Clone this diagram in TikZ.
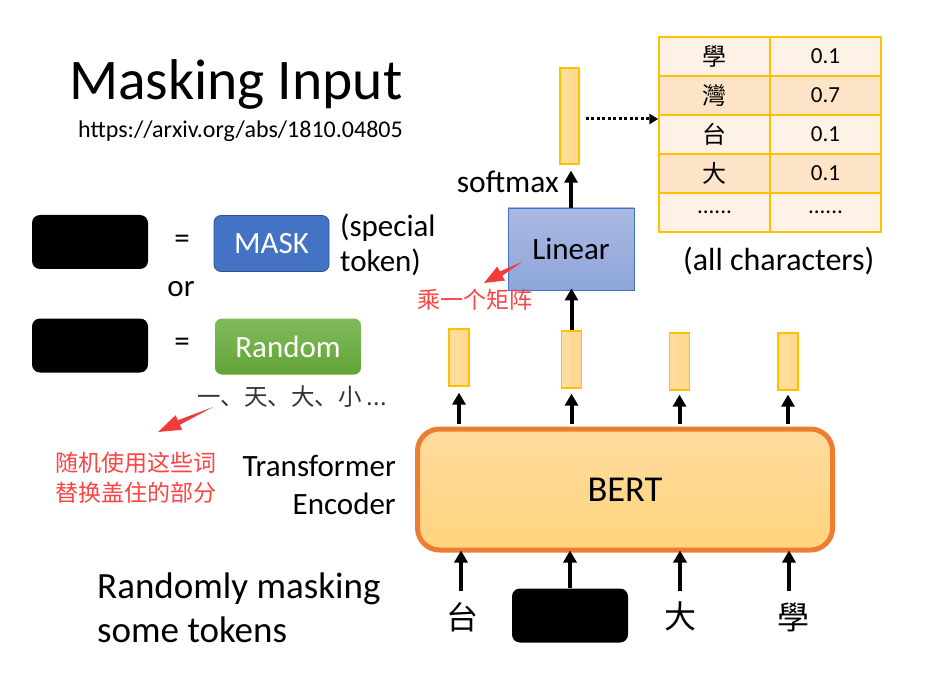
\documentclass[tikz,border=0pt]{standalone}
\usepackage{fontspec}
\setmainfont{Carlito}
\newfontfamily\cjk{Noto Sans CJK SC}
\newfontfamily\cjktc{Noto Sans CJK TC}
\usetikzlibrary{arrows.meta,calc}
\definecolor{maskblue}{HTML}{4472C4}
\definecolor{maskborder}{HTML}{2F528F}
\definecolor{gtop}{HTML}{81BA5C}
\definecolor{gbot}{HTML}{62A437}
\definecolor{bertborder}{HTML}{ED7D31}
\definecolor{berttop}{HTML}{FFDC9E}
\definecolor{bertbot}{HTML}{FFD47E}
\definecolor{barfill}{HTML}{FFD88E}
\definecolor{gold}{HTML}{FFC000}
\definecolor{lintop}{HTML}{AAB9E2}
\definecolor{linbot}{HTML}{8EA5DA}
\definecolor{rowA}{HTML}{FEF2E6}
\definecolor{rowB}{HTML}{FDE4C9}
\definecolor{redtxt}{HTML}{FF4242}
\definecolor{redarrow}{HTML}{F23C3C}
\definecolor{graytxt}{HTML}{333333}
\begin{document}
\begin{tikzpicture}[x=1pt,y=-1pt,
  f31/.style={font=\fontsize{31}{36}\selectfont},
  blackbox/.style={fill=black, rounded corners=8pt, inner sep=0pt, minimum width=116pt, minimum height=54pt},
  bar/.style={draw=gold, line width=1.2pt, left color=barfill!85!white, right color=barfill, inner sep=0pt, minimum width=20pt},
  uparrow/.style={line width=4pt, -{Triangle[length=12pt,width=13pt]}},
  cell/.style={draw=gold, line width=1.3pt, inner sep=0pt, minimum width=111pt, minimum height=39pt, font=\fontsize{23}{26}\selectfont},
  cjkcell/.style={font=\cjktc\fontsize{24}{26}\selectfont},
  redlbl/.style={text=redtxt, font=\cjk\fontsize{23}{29}\selectfont},
]
\useasboundingbox (0,0) rectangle (949,684);

% title
\node[anchor=base west, inner sep=0pt, font=\fontsize{57.5}{60}\selectfont] (title) at (69,100) {Masking Input};
\node[anchor=base west, inner sep=0pt, font=\fontsize{24}{26}\selectfont] (url) at (78,138) {https://arxiv.org/abs/1810.04805};

% left legend
\node[blackbox] (bk1) at (90,242) {};
\node[blackbox] (bk2) at (90,345.5) {};
\node[f31] (eq1) at (182,242) {=};
\node[f31] (eq2) at (182,345) {=};
\node[f31, anchor=base, inner sep=0pt] (or) at (181,296) {or};
\node[fill=maskblue, draw=maskborder, line width=0.8pt, rounded corners=7pt, inner sep=0pt,
      minimum width=115pt, minimum height=56pt, text=white, f31] (mask) at (271.5,243.5) {MASK};
\node[anchor=base west, inner sep=0pt, f31] (sp1) at (340,237) {(special};
\node[anchor=base west, inner sep=0pt, f31] (sp2) at (340,272) {token)};
\node[top color=gtop, bottom color=gbot, rounded corners=7pt, inner sep=0pt,
      minimum width=146pt, minimum height=56pt, text=white, f31] (rand) at (288,346.5) {Random};
\node[anchor=west, inner sep=0pt, text=graytxt, font=\cjk\fontsize{23.5}{26}\selectfont] (examples) at (197,397) {一、天、大、小 ...};

% red annotation left
\coordinate (ra) at (213,407);
\coordinate (rb) at (158,432);
\coordinate (rh) at ($(ra)!0.62!(rb)$);
\fill[redarrow] (ra) -- ($(rh)!2.5pt!90:(rb)$) -- ($(rh)!8pt!90:(rb)$) -- (rb) -- ($(rh)!8pt!-90:(rb)$) -- ($(rh)!2.5pt!-90:(rb)$) -- cycle;
\node[redlbl, anchor=west, inner sep=0pt] (red1) at (55,463) {随机使用这些词};
\node[redlbl, anchor=west, inner sep=0pt] (red2) at (55,493) {替换盖住的部分};

% Transformer Encoder
\node[anchor=base east, inner sep=0pt, f31] (tr1) at (396,476) {Transformer};
\node[anchor=base east, inner sep=0pt, f31] (tr2) at (396,514) {Encoder};

% Randomly masking
\node[anchor=base west, inner sep=0pt, font=\fontsize{37}{40}\selectfont] (rm1) at (97,598) {Randomly masking};
\node[anchor=base west, inner sep=0pt, font=\fontsize{37}{40}\selectfont] (rm2) at (97,642) {some tokens};

% BERT
\node[draw=bertborder, line width=5pt, top color=berttop, bottom color=bertbot, rounded corners=22pt,
      inner sep=0pt, minimum width=415pt, minimum height=121pt, font=\fontsize{36.5}{40}\selectfont] (bert) at (625,489.5) {BERT};

% inputs
\node[font=\cjktc\fontsize{32}{34}\selectfont] (in1) at (462,617) {台};
\node[blackbox] (in2) at (570,615.5) {};
\node[font=\cjktc\fontsize{32}{34}\selectfont] (in3) at (680,616) {大};
\node[font=\cjktc\fontsize{32}{34}\selectfont] (in4) at (793,617) {學};
\coordinate (a1) at (461,591);
\coordinate (a3) at (680,591);
\coordinate (a4) at (789,591);
\draw[uparrow] (a1) -- ([yshift=2pt]a1 |- bert.south);
\draw[uparrow] (in2.north) -- ([yshift=2pt]in2.north |- bert.south);
\draw[uparrow] (a3) -- ([yshift=2pt]a3 |- bert.south);
\draw[uparrow] (a4) -- ([yshift=2pt]a4 |- bert.south);

% output bars
\node[bar, minimum height=57pt] (o1) at (459,357.5) {};
\node[bar, minimum height=57pt] (o2) at (571.5,359.5) {};
\node[bar, minimum height=57pt] (o3) at (679.5,361.5) {};
\node[bar, minimum height=57pt] (o4) at (788,361.5) {};
\draw[uparrow] (bert.north -| o1) ++(0,-2.5) -- ([yshift=-6pt]o1.south);
\draw[uparrow] (bert.north -| o2) ++(0,-2.5) -- ([yshift=-5pt]o2.south);
\draw[uparrow] (bert.north -| o3) ++(0,-2.5) -- ([yshift=-4pt]o3.south);
\draw[uparrow] (bert.north -| o4) ++(0,-2.5) -- ([yshift=-4pt]o4.south);

% Linear
\node[draw=maskblue, line width=0.8pt, top color=lintop, bottom color=linbot, inner sep=0pt,
      minimum width=126pt, minimum height=82pt, f31] (lin) at (571,249) {Linear};
\draw[uparrow] (o2.north) -- ([yshift=2pt]o2.north |- lin.south);

% red annotation Linear
\coordinate (rc) at (522,262);
\coordinate (rd) at (484,283);
\coordinate (rh2) at ($(rc)!0.55!(rd)$);
\fill[redarrow] (rc) -- ($(rh2)!2.5pt!90:(rd)$) -- ($(rh2)!8pt!90:(rd)$) -- (rd) -- ($(rh2)!8pt!-90:(rd)$) -- ($(rh2)!2.5pt!-90:(rd)$) -- cycle;
\node[redlbl] (red3) at (475,300) {乘一个矩阵};

% softmax output
\node[bar, minimum width=19pt, minimum height=96pt] (top) at (569.5,116) {};
\draw[uparrow] (lin.north) -- ([yshift=-6pt]top.south -| lin.north);
\node[anchor=base east, inner sep=0pt, font=\fontsize{31.5}{34}\selectfont] (soft) at (559,193) {softmax};

% table
\node[cell, fill=rowA, cjkcell] (c1a) at (714.5,56.5) {學};
\node[cell, fill=rowA] (c1b) at (825.5,56.5) {0.1};
\node[cell, fill=rowB, cjkcell] (c2a) at (714.5,95.5) {灣};
\node[cell, fill=rowB] (c2b) at (825.5,95.5) {0.7};
\node[cell, fill=rowA, cjkcell] (c3a) at (714.5,134.5) {台};
\node[cell, fill=rowA] (c3b) at (825.5,134.5) {0.1};
\node[cell, fill=rowB, cjkcell] (c4a) at (714.5,173.5) {大};
\node[cell, fill=rowB] (c4b) at (825.5,173.5) {0.1};
\node[cell, fill=rowA] (c5a) at (714.5,212.5) {......};
\node[cell, fill=rowA] (c5b) at (825.5,212.5) {......};
\draw[line width=3pt, dash pattern=on 3pt off 2.5pt, -{Triangle[length=9pt,width=10pt]}] ([xshift=6pt,yshift=-3pt]top.east) -- ([yshift=-3pt]top.east -| c1a.west);
\node[anchor=base west, inner sep=0pt, font=\fontsize{32}{34}\selectfont] (allc) at (683,270) {(all characters)};
\end{tikzpicture}
\end{document}
